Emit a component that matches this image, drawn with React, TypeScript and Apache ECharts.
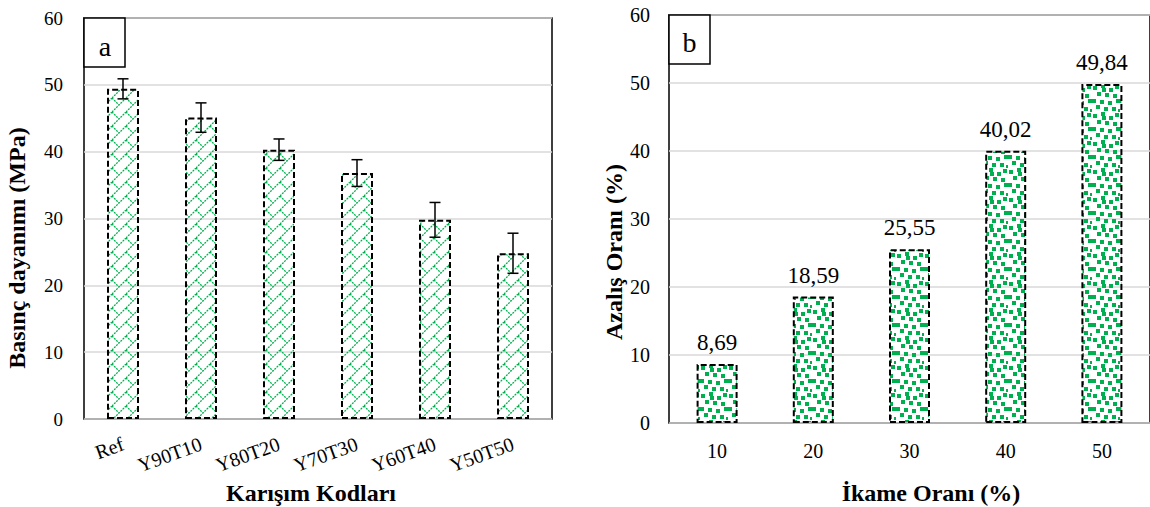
import React, { useEffect, useRef } from "react";
import * as echarts from "echarts";

const mixCodes = ["Ref", "Y90T10", "Y80T20", "Y70T30", "Y60T40", "Y50T50"];
const strength = [49.4, 45.1, 40.3, 36.8, 29.8, 24.8];
const strengthErr = [1.5, 2.2, 1.6, 2.0, 2.6, 3.0];
const ratios = ["10", "20", "30", "40", "50"];
const reduction = [8.69, 18.59, 25.55, 40.02, 49.84];
const yTicksMax = 60;
const yTickStep = 10;

const FONT = "'Liberation Serif', 'Times New Roman', serif";

function brickPattern(): HTMLCanvasElement {
  const s = 14;
  const c = document.createElement("canvas");
  c.width = s;
  c.height = s;
  const ctx = c.getContext("2d")!;
  ctx.strokeStyle = "#00b050";
  ctx.lineWidth = 1.3;
  ctx.setLineDash([2, 1]);
  ctx.beginPath();
  ctx.moveTo(0, s);
  ctx.lineTo(s, 0);
  ctx.moveTo(-2, 2);
  ctx.lineTo(2, -2);
  ctx.moveTo(s - 2, s + 2);
  ctx.lineTo(s + 2, s - 2);
  ctx.moveTo(0, 0);
  ctx.lineTo(s / 2, s / 2);
  ctx.stroke();
  return c;
}

const confettiSpots: [number, number][] = [
  [1, 2], [9, 0], [17, 4], [23, 1], [5, 8], [13, 9], [21, 10],
  [0, 15], [8, 16], [16, 17], [24, 15], [4, 21], [12, 23], [20, 23],
  [26, 25], [10, 4]
];

function confettiPattern(): HTMLCanvasElement {
  const s = 28;
  const c = document.createElement("canvas");
  c.width = s;
  c.height = s;
  const ctx = c.getContext("2d")!;
  ctx.fillStyle = "#00b050";
  for (const [x, y] of confettiSpots) {
    ctx.fillRect(x, y, 4, 4);
  }
  return c;
}

export default function App() {
  const ref = useRef<HTMLDivElement>(null);
  useEffect(() => {
    const chart = echarts.init(ref.current!, null, { renderer: "svg" });
    const brick = brickPattern();
    const confetti = confettiPattern();
    const axisLabel = { color: "#000", fontFamily: FONT, fontSize: 20 };
    const barBorder = { borderColor: "#000", borderWidth: 2, borderType: [6, 3] };
    const titleFont = `bold 24px ${FONT}`;
    const option: any = {
      animation: false,
      backgroundColor: "#fff",
      grid: [
        { left: 84, top: 18, width: 468, height: 401, show: true, borderColor: "#000", borderWidth: 1.5, backgroundColor: "transparent" },
        { left: 669, top: 15, width: 485, height: 408, show: true, borderColor: "#000", borderWidth: 1.5, backgroundColor: "transparent" },
      ],
      xAxis: [
        {
          gridIndex: 0, type: "category", data: mixCodes,
          axisLine: { show: false }, axisTick: { show: false },
          axisLabel: { ...axisLabel, rotate: 20, margin: 24 },
        },
        {
          gridIndex: 1, type: "category", data: ratios,
          axisLine: { show: false }, axisTick: { show: false },
          axisLabel: { ...axisLabel, margin: 18 },
        },
      ],
      yAxis: [
        {
          gridIndex: 0, type: "value", min: 0, max: yTicksMax, interval: yTickStep,
          axisLine: { show: false }, axisTick: { show: false },
          axisLabel: { ...axisLabel, fontSize: 19, margin: 21 },
          splitLine: { lineStyle: { color: "#d9d9d9", width: 1.5 } },
        },
        {
          gridIndex: 1, type: "value", min: 0, max: yTicksMax, interval: yTickStep,
          axisLine: { show: false }, axisTick: { show: false },
          axisLabel: { ...axisLabel, margin: 19 },
          splitLine: { lineStyle: { color: "#d9d9d9", width: 1.5 } },
        },
      ],
      series: [
        {
          type: "bar", xAxisIndex: 0, yAxisIndex: 0, data: strength, barWidth: 32,
          itemStyle: { color: { image: brick, repeat: "repeat" }, ...barBorder },
        },
        {
          type: "custom", xAxisIndex: 0, yAxisIndex: 0,
          data: strength.map((v, i) => [i, v - strengthErr[i], v + strengthErr[i]]),
          z: 5,
          renderItem: (params: any, api: any) => {
            const lo = api.coord([api.value(0), api.value(1)]);
            const hi = api.coord([api.value(0), api.value(2)]);
            const x = lo[0];
            const w = 5.5;
            const st = { stroke: "#000", lineWidth: 1.5 };
            return {
              type: "group",
              children: [
                { type: "line", shape: { x1: x, y1: lo[1], x2: x, y2: hi[1] }, style: st },
                { type: "line", shape: { x1: x - w, y1: lo[1], x2: x + w, y2: lo[1] }, style: st },
                { type: "line", shape: { x1: x - w, y1: hi[1], x2: x + w, y2: hi[1] }, style: st },
              ],
            };
          },
        },
        {
          type: "bar", xAxisIndex: 1, yAxisIndex: 1, data: reduction, barWidth: 41,
          itemStyle: { color: { image: confetti, repeat: "repeat" }, ...barBorder },
          label: {
            show: true, position: "top", distance: 10, color: "#000", fontFamily: FONT, fontSize: 23,
            formatter: (p: any) => p.value.toFixed(2).replace(".", ","),
          },
        },
      ],
      graphic: [
        { type: "rect", shape: { x: 84, y: 18, width: 41, height: 49 }, style: { fill: "#fff", stroke: "#000", lineWidth: 1.5 }, z: 10 },
        { type: "text", x: 105, y: 46, style: { text: "a", font: `28px ${FONT}`, fill: "#000", align: "center", verticalAlign: "middle" }, z: 11 },
        { type: "rect", shape: { x: 669, y: 15, width: 41, height: 49 }, style: { fill: "#fff", stroke: "#000", lineWidth: 1.5 }, z: 10 },
        { type: "text", x: 689.5, y: 42, style: { text: "b", font: `28px ${FONT}`, fill: "#000", align: "center", verticalAlign: "middle" }, z: 11 },
        { type: "text", x: 17, y: 248, rotation: Math.PI / 2, style: { text: "Basınç dayanımı (MPa)", font: titleFont, fill: "#000", align: "center", verticalAlign: "middle" } },
        { type: "text", x: 614, y: 252, rotation: Math.PI / 2, style: { text: "Azalış Oranı (%)", font: titleFont, fill: "#000", align: "center", verticalAlign: "middle" } },
        { type: "text", x: 311, y: 493, style: { text: "Karışım Kodları", font: titleFont, fill: "#000", align: "center", verticalAlign: "middle" } },
        { type: "text", x: 931, y: 493, style: { text: "İkame Oranı (%)", font: titleFont, fill: "#000", align: "center", verticalAlign: "middle" } },
      ],
    };
    chart.setOption(option);
    return () => chart.dispose();
  }, []);
  return (
    <div
      ref={ref}
      style={{ position: "fixed", left: 0, top: 0, width: 1150, height: 507, background: "#fff" }}
    />
  );
}
